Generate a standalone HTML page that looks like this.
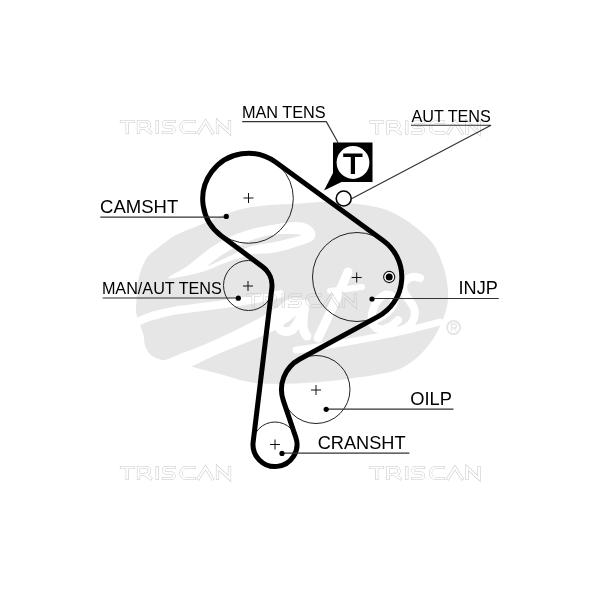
<!DOCTYPE html>
<html><head><meta charset="utf-8">
<style>
html,body{margin:0;padding:0;background:#fff;width:600px;height:600px;overflow:hidden}
svg{display:block;will-change:transform}
text{font-family:"Liberation Sans",sans-serif;fill:#000}
</style></head>
<body>
<svg width="600" height="600" viewBox="0 0 600 600">
<g id="logo">
<path fill="#e6e6e6" d="M136.5 300.0 C136.8 294.2 136.7 286.8 138.3 280.0 C139.9 273.2 142.6 264.5 146.0 259.0 C149.4 253.5 154.0 251.0 159.0 247.0 C164.0 243.0 169.2 238.7 176.0 235.0 C182.8 231.3 191.0 228.8 200.0 225.0 C209.0 221.2 220.0 215.7 230.0 212.5 C240.0 209.3 248.3 207.5 260.0 206.0 C271.7 204.5 287.8 204.2 300.0 203.5 C312.2 202.8 318.6 200.9 333.0 202.0 C347.4 203.1 371.1 204.2 386.7 210.0 C402.3 215.8 417.5 227.9 426.7 236.7 C435.9 245.4 438.4 253.4 442.0 262.5 C445.6 271.6 447.5 282.5 448.0 291.0 C448.5 299.5 447.8 305.0 445.0 313.5 C442.2 322.0 437.2 333.5 431.0 342.0 C424.8 350.5 416.5 359.2 408.0 364.5 C399.5 369.8 395.8 371.0 380.0 374.0 C364.2 377.0 333.5 381.0 313.0 382.5 C292.5 384.0 272.5 384.4 257.0 383.0 C241.5 381.6 232.0 377.0 220.0 374.0 C208.0 371.0 195.7 367.7 185.0 365.0 C174.3 362.3 162.5 360.8 156.0 358.0 C149.5 355.2 148.2 352.2 146.0 348.0 C143.8 343.8 144.6 338.5 143.0 333.0 C141.4 327.5 137.6 320.5 136.5 315.0 C135.4 309.5 136.2 305.8 136.5 300.0 Z"/>
<g fill="none" stroke="#fff" stroke-linecap="round" stroke-linejoin="round">
<path stroke="none" fill="#fff" d="M168.0 278.0 C168.2 276.5 180.7 270.7 186.0 267.0 C191.3 263.3 195.2 259.7 200.0 256.0 C204.8 252.3 209.7 248.3 215.0 245.0 C220.3 241.7 225.8 238.7 232.0 236.0 C238.2 233.3 244.8 230.9 252.0 229.0 C259.2 227.1 267.8 225.7 275.0 224.5 C282.2 223.3 289.5 222.0 295.0 222.0 C300.5 222.0 304.7 222.8 308.0 224.5 C311.3 226.2 314.2 229.4 315.0 232.0 C315.8 234.6 315.5 237.8 313.0 240.0 C310.5 242.2 306.3 243.4 300.0 245.5 C293.7 247.6 283.3 250.9 275.0 252.5 C266.7 254.1 258.3 253.2 250.0 255.0 C241.7 256.8 232.5 260.3 225.0 263.0 C217.5 265.7 211.7 268.8 205.0 271.0 C198.3 273.2 191.2 274.8 185.0 276.0 C178.8 277.2 167.8 279.5 168.0 278.0 Z"/>
<path stroke="none" fill="#e6e6e6" d="M208.0 266.0 C206.7 265.8 217.0 258.3 222.0 255.0 C227.0 251.7 232.5 248.7 238.0 246.0 C243.5 243.3 248.8 240.9 255.0 239.0 C261.2 237.1 267.3 235.2 275.0 234.5 C282.7 233.8 301.0 233.8 301.0 235.0 C301.0 236.2 283.2 240.2 275.0 242.0 C266.8 243.8 259.5 243.7 252.0 246.0 C244.5 248.3 237.3 252.7 230.0 256.0 C222.7 259.3 209.3 266.2 208.0 266.0 Z"/>
<path stroke-width="8" d="M133 326 C140 319 152 315 178 310 C215 305 250 302 280 294"/>
<path stroke="none" fill="#fff" d="M130 368 C150 366 168 360 182 353 C200 347 215 340 230 333 C245 326 258 319 268 313 C278 307 285 302 290 298 L302 310 C295 317 285 325 275 330 C262 337 245 343 230 349 C215 355 205 360 197 364 C180 372 160 378 130 380 Z"/>
<path stroke-width="9" d="M302 305 C294 299 282 305 278 317 C275 329 284 335 292 330 C298 325 302 315 305 304 C303 318 301 330 307 336"/>
<path stroke-width="9" d="M318 338 C328 318 338 295 348 272"/>
<path stroke-width="6" d="M330 291 L362 287"/>
<path stroke-width="8" d="M370 322 C380 318 392 312 394 302 C395 294 386 292 380 298 C372 306 368 322 376 328 C384 332 392 326 398 320"/>
<path stroke-width="8" d="M420 278 C410 274 400 282 404 292 C408 302 418 306 414 318 C410 330 398 332 390 330"/>
<path stroke-width="7" d="M296 350 C340 344 390 336 440 322"/>
</g>
<circle cx="453.6" cy="327.6" r="6.5" fill="none" stroke="#e6e6e6" stroke-width="2"/>
<path d="M451.5 331V324H454.5Q456.5 324 456.5 326T454.5 328H451.5M454 328L456.5 331" fill="none" stroke="#e6e6e6" stroke-width="1.3"/>
</g>
<defs><mask id="wmm" maskUnits="userSpaceOnUse" x="0" y="0" width="600" height="600"><rect width="600" height="600" fill="#000"/>
<path d="M1.5 1.5H13M7.25 1.5V12.5M18.5 12.5V1.5H26A3.5 3.5 0 0 1 26 8.5H18.5M25 8.5L30.5 12.5M37.25 1.5V12.5M54 1.5H46.25A2.75 2.75 0 0 0 46.25 7H51.25A2.75 2.75 0 0 1 51.25 12.5H43.5M74 1.5H66.5A5.5 5.5 0 0 0 66.5 12.5H74M78.5 12.5L85.5 1.5L92.5 12.5M97.5 12.5V1.5L109.5 12.5V1.5" transform="translate(120 120)" fill="none" stroke-linecap="square" stroke="#fff" stroke-width="3.2"/>
<path d="M1.5 1.5H13M7.25 1.5V12.5M18.5 12.5V1.5H26A3.5 3.5 0 0 1 26 8.5H18.5M25 8.5L30.5 12.5M37.25 1.5V12.5M54 1.5H46.25A2.75 2.75 0 0 0 46.25 7H51.25A2.75 2.75 0 0 1 51.25 12.5H43.5M74 1.5H66.5A5.5 5.5 0 0 0 66.5 12.5H74M78.5 12.5L85.5 1.5L92.5 12.5M97.5 12.5V1.5L109.5 12.5V1.5" transform="translate(120 120)" fill="none" stroke-linecap="square" stroke="#000" stroke-width="2.2"/>
<path d="M1.5 1.5H13M7.25 1.5V12.5M18.5 12.5V1.5H26A3.5 3.5 0 0 1 26 8.5H18.5M25 8.5L30.5 12.5M37.25 1.5V12.5M54 1.5H46.25A2.75 2.75 0 0 0 46.25 7H51.25A2.75 2.75 0 0 1 51.25 12.5H43.5M74 1.5H66.5A5.5 5.5 0 0 0 66.5 12.5H74M78.5 12.5L85.5 1.5L92.5 12.5M97.5 12.5V1.5L109.5 12.5V1.5" transform="translate(369.5 120.5)" fill="none" stroke-linecap="square" stroke="#fff" stroke-width="3.2"/>
<path d="M1.5 1.5H13M7.25 1.5V12.5M18.5 12.5V1.5H26A3.5 3.5 0 0 1 26 8.5H18.5M25 8.5L30.5 12.5M37.25 1.5V12.5M54 1.5H46.25A2.75 2.75 0 0 0 46.25 7H51.25A2.75 2.75 0 0 1 51.25 12.5H43.5M74 1.5H66.5A5.5 5.5 0 0 0 66.5 12.5H74M78.5 12.5L85.5 1.5L92.5 12.5M97.5 12.5V1.5L109.5 12.5V1.5" transform="translate(369.5 120.5)" fill="none" stroke-linecap="square" stroke="#000" stroke-width="2.2"/>
<path d="M1.5 1.5H13M7.25 1.5V12.5M18.5 12.5V1.5H26A3.5 3.5 0 0 1 26 8.5H18.5M25 8.5L30.5 12.5M37.25 1.5V12.5M54 1.5H46.25A2.75 2.75 0 0 0 46.25 7H51.25A2.75 2.75 0 0 1 51.25 12.5H43.5M74 1.5H66.5A5.5 5.5 0 0 0 66.5 12.5H74M78.5 12.5L85.5 1.5L92.5 12.5M97.5 12.5V1.5L109.5 12.5V1.5" transform="translate(246 293.5)" fill="none" stroke-linecap="square" stroke="#fff" stroke-width="3.2"/>
<path d="M1.5 1.5H13M7.25 1.5V12.5M18.5 12.5V1.5H26A3.5 3.5 0 0 1 26 8.5H18.5M25 8.5L30.5 12.5M37.25 1.5V12.5M54 1.5H46.25A2.75 2.75 0 0 0 46.25 7H51.25A2.75 2.75 0 0 1 51.25 12.5H43.5M74 1.5H66.5A5.5 5.5 0 0 0 66.5 12.5H74M78.5 12.5L85.5 1.5L92.5 12.5M97.5 12.5V1.5L109.5 12.5V1.5" transform="translate(246 293.5)" fill="none" stroke-linecap="square" stroke="#000" stroke-width="2.2"/>
<path d="M1.5 1.5H13M7.25 1.5V12.5M18.5 12.5V1.5H26A3.5 3.5 0 0 1 26 8.5H18.5M25 8.5L30.5 12.5M37.25 1.5V12.5M54 1.5H46.25A2.75 2.75 0 0 0 46.25 7H51.25A2.75 2.75 0 0 1 51.25 12.5H43.5M74 1.5H66.5A5.5 5.5 0 0 0 66.5 12.5H74M78.5 12.5L85.5 1.5L92.5 12.5M97.5 12.5V1.5L109.5 12.5V1.5" transform="translate(120 466)" fill="none" stroke-linecap="square" stroke="#fff" stroke-width="3.2"/>
<path d="M1.5 1.5H13M7.25 1.5V12.5M18.5 12.5V1.5H26A3.5 3.5 0 0 1 26 8.5H18.5M25 8.5L30.5 12.5M37.25 1.5V12.5M54 1.5H46.25A2.75 2.75 0 0 0 46.25 7H51.25A2.75 2.75 0 0 1 51.25 12.5H43.5M74 1.5H66.5A5.5 5.5 0 0 0 66.5 12.5H74M78.5 12.5L85.5 1.5L92.5 12.5M97.5 12.5V1.5L109.5 12.5V1.5" transform="translate(120 466)" fill="none" stroke-linecap="square" stroke="#000" stroke-width="2.2"/>
<path d="M1.5 1.5H13M7.25 1.5V12.5M18.5 12.5V1.5H26A3.5 3.5 0 0 1 26 8.5H18.5M25 8.5L30.5 12.5M37.25 1.5V12.5M54 1.5H46.25A2.75 2.75 0 0 0 46.25 7H51.25A2.75 2.75 0 0 1 51.25 12.5H43.5M74 1.5H66.5A5.5 5.5 0 0 0 66.5 12.5H74M78.5 12.5L85.5 1.5L92.5 12.5M97.5 12.5V1.5L109.5 12.5V1.5" transform="translate(369.5 466)" fill="none" stroke-linecap="square" stroke="#fff" stroke-width="3.2"/>
<path d="M1.5 1.5H13M7.25 1.5V12.5M18.5 12.5V1.5H26A3.5 3.5 0 0 1 26 8.5H18.5M25 8.5L30.5 12.5M37.25 1.5V12.5M54 1.5H46.25A2.75 2.75 0 0 0 46.25 7H51.25A2.75 2.75 0 0 1 51.25 12.5H43.5M74 1.5H66.5A5.5 5.5 0 0 0 66.5 12.5H74M78.5 12.5L85.5 1.5L92.5 12.5M97.5 12.5V1.5L109.5 12.5V1.5" transform="translate(369.5 466)" fill="none" stroke-linecap="square" stroke="#000" stroke-width="2.2"/>
</mask></defs>
<rect width="600" height="600" fill="#c6c6c6" mask="url(#wmm)"/>
<g fill="none" stroke="#222" stroke-width="1">
<circle cx="248.5" cy="198.5" r="44.8"/>
<circle cx="248.5" cy="285.5" r="25"/>
<circle cx="357" cy="277" r="44.5"/>
<circle cx="316" cy="389.5" r="34"/>
<circle cx="275" cy="444.5" r="22.5"/>
</g>
<g stroke="#111" stroke-width="1">
<path d="M243.5 198h10M248.5 193v10"/>
<path d="M243 286h10M248 281v10"/>
<path d="M351.7 277.5h10M356.7 272.5v10"/>
<path d="M311 390h10M316 385v10"/>
<path d="M270 444.5h10M275 439.5v10"/>
</g>
<path fill="none" stroke="#000" stroke-width="5" stroke-linejoin="round" d="M221.09 235.69 L262.56 266.67 A23.50 23.50 0 0 1 271.83 288.34 L253.16 441.84 A22.00 22.00 0 1 0 295.83 437.43 L283.33 400.59 A34.50 34.50 0 0 1 299.54 359.18 L378.38 316.37 A44.80 44.80 0 0 0 383.42 240.82 L275.51 162.01 A45.80 45.80 0 0 0 221.09 235.69 Z"/>
<g fill="none" stroke="#333" stroke-width="1.2">
<path d="M242.2 121.7H326.3L338 142.5"/>
<path d="M411 125.25H491L352 198.5"/>
<path d="M100.3 217.1H226.3"/>
<path d="M102.6 298H238.3"/>
<path d="M372 298.5H498.8"/>
<path d="M326.2 409.2H453.5"/>
<path d="M282 453.1H409.4"/>
</g>
<g fill="#000">
<circle cx="226.3" cy="216.4" r="2.6"/>
<circle cx="238.3" cy="298.2" r="2.6"/>
<circle cx="372" cy="299" r="2.6"/>
<circle cx="326.2" cy="409.3" r="2.6"/>
<circle cx="282" cy="453.4" r="2.6"/>
</g>
<circle cx="389.2" cy="277" r="5.6" fill="#fff" stroke="#111" stroke-width="1.1"/>
<circle cx="389.2" cy="277" r="3.5" fill="#000"/>
<circle cx="343.7" cy="198.5" r="7.5" fill="#fff" stroke="#000" stroke-width="1.6"/>
<path d="M333 142.5H372.5V182H341.5L324 190.5L333 173Z" fill="#000"/>
<circle cx="353" cy="162.5" r="16.4" fill="#fff"/>
<path d="M343.2 153.5H362.5V157H355V174H350.8V157H343.2Z" fill="#000"/>
<text x="241.9" y="118" font-size="16.3">MAN TENS</text>
<text x="411.4" y="121.7" font-size="16.2">AUT TENS</text>
<text x="100.1" y="212.7" font-size="18.5">CAMSHT</text>
<text x="101.9" y="294" font-size="16.2">MAN/AUT TENS</text>
<text x="458.6" y="293.9" font-size="18.1">INJP</text>
<text x="410.3" y="404.5" font-size="18.3">OILP</text>
<text x="317.7" y="448.6" font-size="18.2">CRANSHT</text>
</svg>
</body></html>
